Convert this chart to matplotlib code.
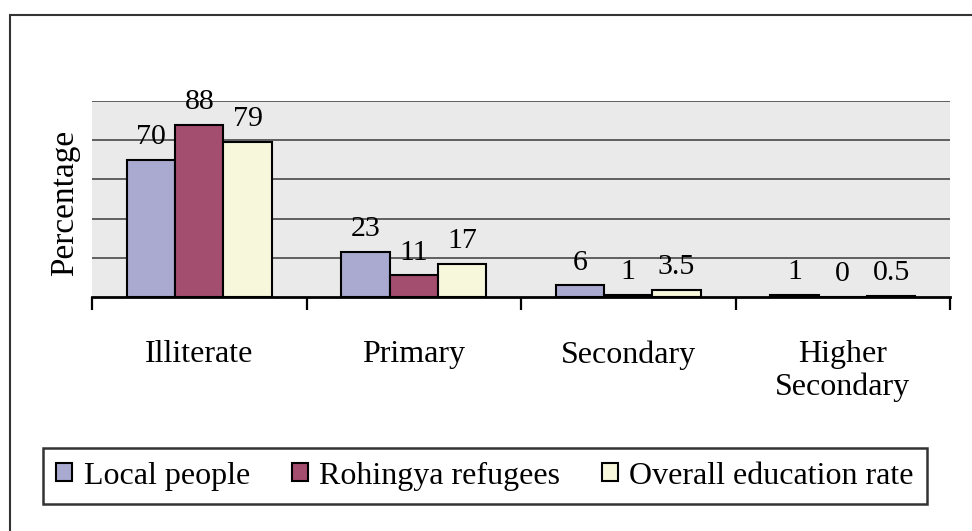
import matplotlib
matplotlib.use("Agg")
import matplotlib.pyplot as plt
import numpy as np
from matplotlib.patches import Rectangle

categories = ['Illiterate', 'Primary', 'Secondary', 'Higher\nSecondary']
series_names = ['Local people', 'Rohingya refugees', 'Overall education rate']
local = [70, 23, 6, 1]
rohingya = [88, 11, 1, 0]
overall = [79, 17, 3.5, 0.5]
colors = ['#AAAAD0', '#A34E6E', '#F7F7DC']
yticks = [20, 40, 60, 80, 100]

FONT = ['Liberation Serif', 'DejaVu Serif']
plt.rcParams['font.family'] = FONT

W, H = 972, 531
fig = plt.figure(figsize=(W / 100, H / 100), dpi=100)
ax = fig.add_axes([92 / W, 1 - 297 / H, 858 / W, 196 / H])

x = np.arange(len(categories))
w = 0.225
for i, (vals, c, name) in enumerate(zip([local, rohingya, overall], colors, series_names)):
    bars = ax.bar(x + (i - 1) * w, vals, w, color=c, edgecolor='black',
                  linewidth=1.5, label=name, zorder=3)
    for b, v in zip(bars, vals):
        ax.annotate(f'{v:g}', (b.get_x() + b.get_width() / 2, b.get_height()),
                    xytext=(0, 7), textcoords='offset points', ha='center',
                    va='bottom', fontsize=21.5, zorder=4)

ax.set_xlim(-0.5, len(categories) - 0.5)
ax.set_ylim(0, 100)
ax.set_facecolor('#EAEAEA')
ax.set_yticks(yticks)
ax.set_yticklabels([])
ax.tick_params(axis='y', length=0)
ax.yaxis.grid(True, color='#555555', linewidth=1.3)
ax.set_axisbelow(True)
for s in ['left', 'right', 'top']:
    ax.spines[s].set_visible(False)
ax.spines['bottom'].set_color('black')
ax.spines['bottom'].set_linewidth(2)
ax.spines['bottom'].set_zorder(5)

ax.set_xticks(x)
ax.set_xticklabels(categories, fontsize=23, linespacing=1.15)
ax.tick_params(axis='x', which='major', length=0, pad=31)
ax.set_xticks(np.arange(-0.5, len(categories)), minor=True)
ax.tick_params(axis='x', which='minor', length=9, width=1.6, direction='out', color='black')

fig.text(65 / W, 1 - 203 / H, 'Percentage', rotation=90, ha='center', va='center', fontsize=24)

leg = fig.legend(loc='center', bbox_to_anchor=(43 / W, 1 - 506 / H, 884 / W, 60 / H),
                 mode='expand', ncol=3, fontsize=23, frameon=True, fancybox=False,
                 borderaxespad=0, handlelength=0.5, handleheight=0.5,
                 handletextpad=0.35, columnspacing=0.3, borderpad=0.42)
leg.get_frame().set_edgecolor('black')
leg.get_frame().set_linewidth(1.8)

fig.add_artist(Rectangle((10 / W, -0.05), 1.2, (1 - 15 / H) + 0.05,
                         transform=fig.transFigure, fill=False, ec='#333333', lw=1.5))

fig.savefig('out.png', dpi=100)
